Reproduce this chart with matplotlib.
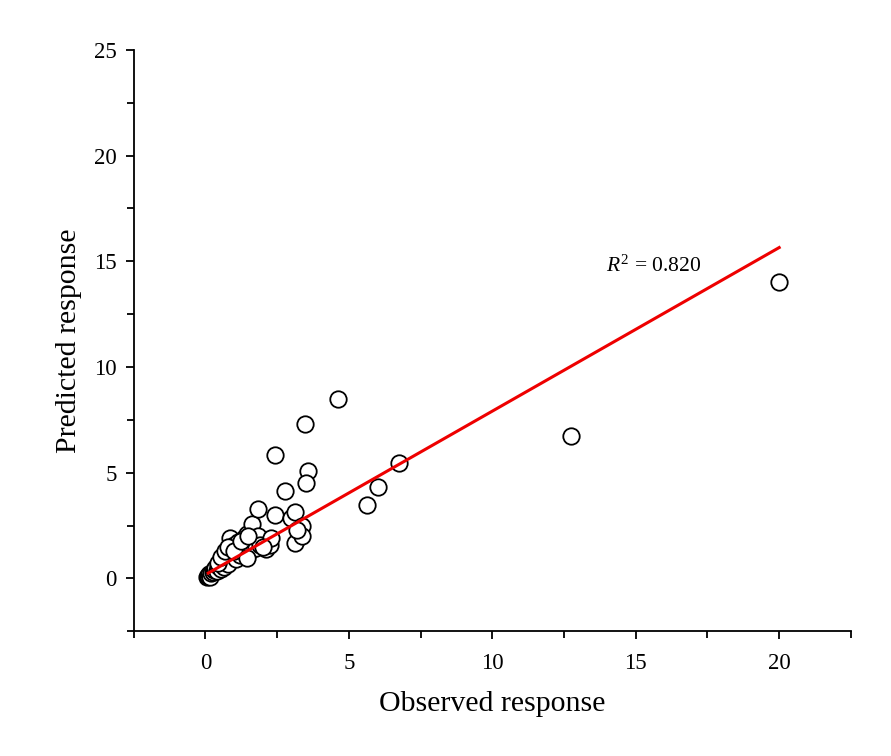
import matplotlib
matplotlib.use("Agg")
import matplotlib.pyplot as plt
from matplotlib.ticker import MultipleLocator

plt.rcParams['font.family'] = ['Liberation Serif', 'DejaVu Serif']
plt.rcParams['mathtext.fontset'] = 'custom'
plt.rcParams['mathtext.rm'] = 'Liberation Serif'
plt.rcParams['mathtext.it'] = 'Liberation Serif:italic'

observed = [0.05, 0.08, 0.1, 0.12, 0.15, 0.2, 0.25, 0.3, 0.35, 0.4, 0.45, 0.5, 0.55,
            0.6, 0.65, 0.7, 0.75, 0.8, 0.85, 0.9, 0.95, 1.0, 1.05, 1.1, 1.15, 1.2,
            1.3, 1.35, 1.4, 1.45, 1.5, 1.55, 1.64, 1.7, 1.75, 1.82, 1.85, 1.9, 2.1,
            2.25, 2.3, 2.41, 2.41, 2.78, 3.0, 3.11, 3.11, 3.36, 3.36, 3.46, 3.57,
            3.5, 4.62, 5.63, 6.0, 6.75, 12.73, 20.0,
            0.45, 0.55, 0.7, 0.8, 1.0, 1.25, 1.5, 1.45, 2.0, 3.2]
predicted = [0.05, 0.12, 0.1, 0.2, 0.08, 0.25, 0.3, 0.4, 0.5, 0.35, 0.6, 0.7, 0.45,
             0.8, 0.55, 0.9, 1.05, 0.7, 1.9, 1.4, 1.2, 1.6, 0.9, 1.3, 1.7, 1.1,
             1.5, 1.9, 1.2, 2.1, 1.6, 1.3, 2.58, 1.8, 1.45, 3.28, 2.0, 1.6, 1.4,
             1.6, 1.9, 5.85, 3.0, 4.15, 2.86, 3.15, 1.67, 2.48, 2.0, 7.3, 5.1,
             4.5, 8.49, 3.48, 4.34, 5.44, 6.73, 14.03,
             0.75, 1.0, 1.3, 1.5, 1.3, 1.75, 2.0, 0.95, 1.5, 2.3]

fit_x = [0.1, 20.0]
fit_y = [0.25, 15.65]
r2_label = r'$\mathit{R}^{2}$ = 0.820'

fig = plt.figure(figsize=(8.91, 7.56), dpi=100)
ax = fig.add_axes([0.150, 0.165, 0.805, 0.769])

ax.scatter(observed, predicted, s=140, facecolors='white', edgecolors='black',
           linewidths=1.3, zorder=2)
ax.plot(fit_x, fit_y, color='#ee0000', lw=2.2, zorder=3)
ax.text(13.95, 14.5, r2_label, fontsize=15.5)

ax.set_xlim(-2.5, 22.5)
ax.set_ylim(-2.5, 25)
ax.set_xticks([0, 5, 10, 15, 20])
ax.set_yticks([0, 5, 10, 15, 20, 25])
ax.xaxis.set_minor_locator(MultipleLocator(2.5))
ax.yaxis.set_minor_locator(MultipleLocator(2.5))

for s in ['top', 'right']:
    ax.spines[s].set_visible(False)
for s in ['left', 'bottom']:
    ax.spines[s].set_linewidth(1.3)

ax.tick_params(which='major', direction='out', length=6, width=1.3, labelsize=16.5, pad=6)
ax.tick_params(which='minor', direction='out', length=5, width=1.3)
ax.tick_params(axis='x', which='major', pad=10)

ax.set_xlabel('Observed response', fontsize=21.5, labelpad=12)
ax.set_ylabel('Predicted response', fontsize=21.5, labelpad=9)

fig.savefig('out.png', dpi=100)
